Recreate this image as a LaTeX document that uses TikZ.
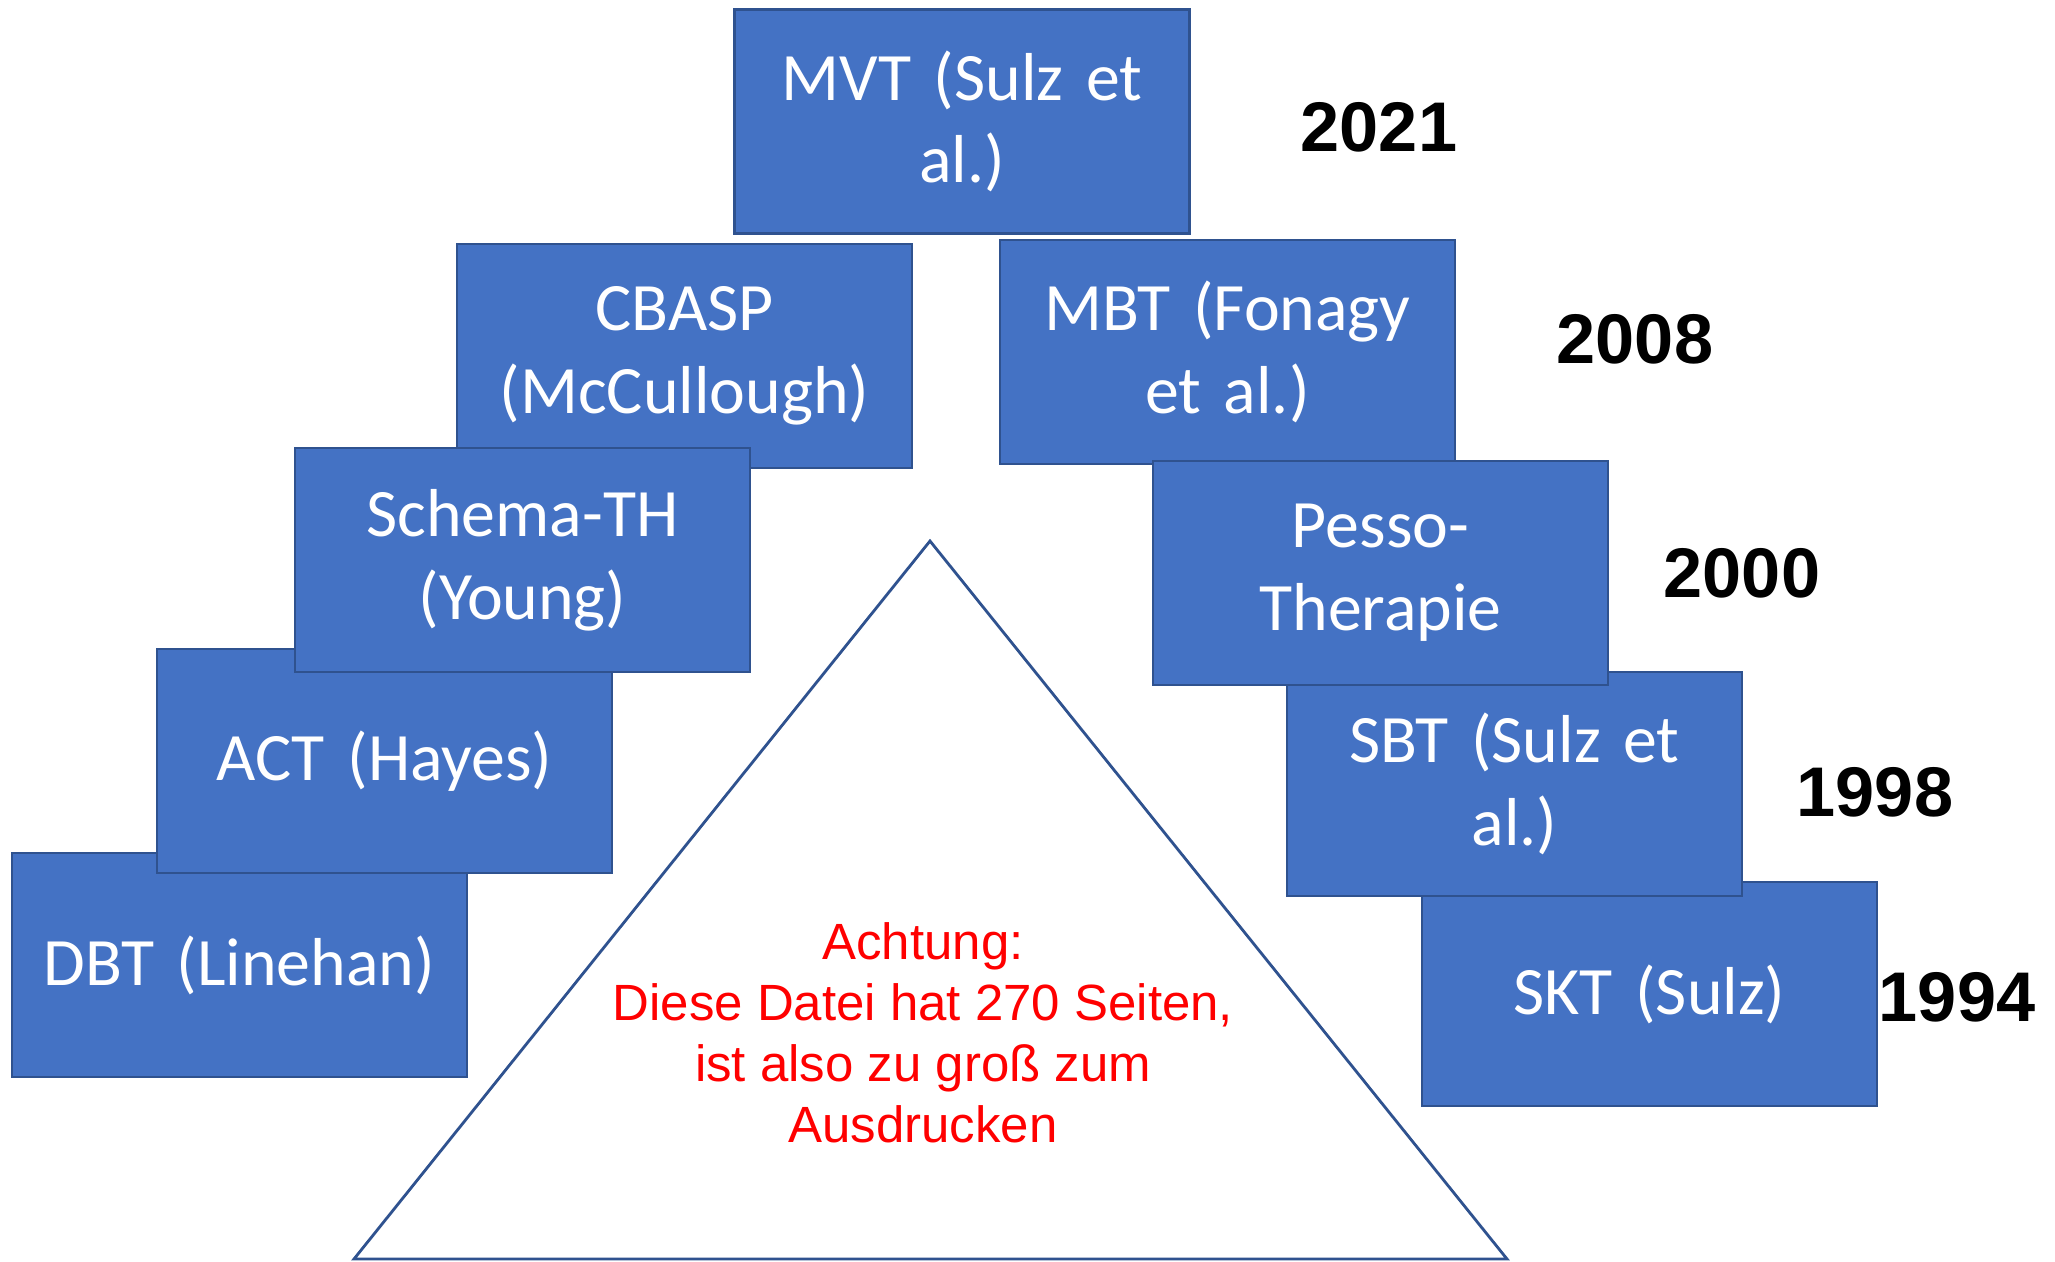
\documentclass[tikz,border=0pt]{standalone}
\usepackage{fontspec}
\setmainfont{Carlito}
\newfontfamily\arialfont{Liberation Sans}
\usetikzlibrary{positioning}
\definecolor{boxblue}{HTML}{4472C4}
\definecolor{boxedge}{HTML}{2F528F}
\definecolor{warnred}{HTML}{FF0000}

\tikzset{
  therapy/.style={rectangle, draw=boxedge, line width=0.7pt, fill=boxblue,
    minimum width=4.55cm, minimum height=2.24cm, text width=4.3cm, align=center,
    text=white, inner sep=0pt, font=\fontsize{19.3}{23.5}\selectfont},
  year/.style={font=\arialfont\bfseries\fontsize{20}{24}\selectfont, inner sep=0pt}
}

\begin{document}
\begin{tikzpicture}
  \useasboundingbox (0,0) rectangle (20.55,-12.62);

  %% pyramid
  \draw[boxedge, line width=0.8pt, fill=white] (9.30,-5.41) -- (3.54,-12.59) -- (15.07,-12.59) -- cycle;
  \node (warn) at (9.23,-10.33) [text=warnred, align=center,
    font=\arialfont\fontsize{14.5}{17.4}\selectfont]
    {Achtung:\\Diese Datei hat 270 Seiten,\\ist also zu groß zum\\Ausdrucken};

  %% left side
  \node[therapy] (dbt) at (2.395,-9.65) {DBT (Linehan)};
  \node[therapy] (act) at (3.845,-7.61) {ACT (Hayes)};
  \node[therapy] (cbasp) at (6.845,-3.56) {CBASP\\(McCullough)};
  \node[therapy] (schema) at (5.225,-5.60) {Schema-TH\\(Young)};

  %% right side
  \node[therapy] (skt) at (16.495,-9.94) {SKT (Sulz)};
  \node[therapy] (sbt) at (15.145,-7.84) {SBT (Sulz et\\al.)};
  \node[therapy] (mbt) at (12.275,-3.52) {MBT (Fonagy\\et al.)};
  \node[therapy] (pesso) at (13.805,-5.73) {Pesso-\\Therapie};

  %% top
  \node[therapy] (mvt) at (9.62,-1.215) {MVT (Sulz et\\al.)};

  %% years
  \node[year] (y2021) at (13.79,-1.27) {2021};
  \node[year] (y2008) at (16.35,-3.39) {2008};
  \node[year] (y2000) at (17.42,-5.73) {2000};
  \node[year] (y1998) at (18.75,-7.92) {1998};
  \node[year] (y1994) at (19.57,-9.97) {1994};
\end{tikzpicture}
\end{document}
